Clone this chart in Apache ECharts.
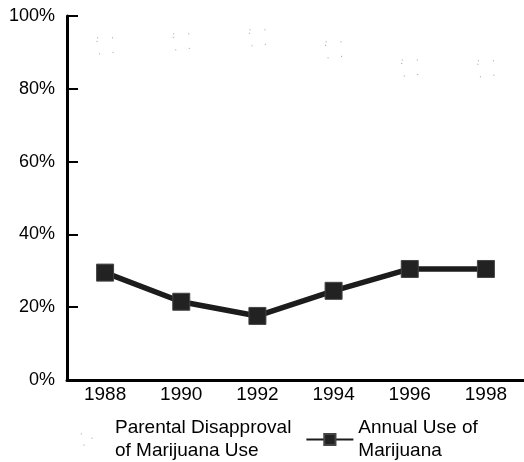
<!DOCTYPE html>
<html>
<head>
<meta charset="utf-8">
<script src="https://cdn.jsdelivr.net/npm/echarts@6/dist/echarts.min.js"></script>
<style>
  html, body { margin: 0; padding: 0; background: #fff; }
  #chart { width: 524px; height: 462px; }
</style>
</head>
<body>
<div id="chart"></div>
<script>
const years = ['1988', '1990', '1992', '1994', '1996', '1998']
const parentalDisapproval = [91.8, 92.9, 94.0, 90.7, 85.7, 85.5]
const annualUse = [29.5, 21.5, 17.6, 24.5, 30.5, 30.5]
const yTicks = { min: 0, max: 100, interval: 20 }

const font = '"Liberation Sans", Arial, Helvetica, sans-serif'
const chart = echarts.init(document.getElementById('chart'))

const faintBox = { color: '#fff', borderColor: '#9a9a9a', borderWidth: 1, borderType: [1, 14] }

chart.setOption({
  animation: false,
  backgroundColor: '#fff',
  textStyle: { fontFamily: font, color: '#000' },
  grid: { left: 67, right: 0, top: 16, bottom: 82 },
  legend: {
    left: 57,
    top: 400,
    itemWidth: 47,
    itemHeight: 14,
    itemGap: 14,
    textStyle: { fontSize: 19, lineHeight: 23, color: '#000', padding: [23, 0, 0, 0] },
    data: [
      { name: 'Parental Disapproval\nof Marijuana Use', itemStyle: faintBox },
      { name: 'Annual Use of\nMarijuana' },
    ],
  },
  xAxis: {
    type: 'category',
    data: years,
    boundaryGap: true,
    axisLine: { lineStyle: { color: '#000', width: 3 } },
    axisTick: { inside: true, length: 9, interval: 0, lineStyle: { color: '#000', width: 2 } },
    axisLabel: { fontSize: 19, color: '#000', margin: 5, interval: 0 },
  },
  yAxis: {
    type: 'value',
    min: yTicks.min,
    max: yTicks.max,
    interval: yTicks.interval,
    splitLine: { show: false },
    axisLine: { show: true, lineStyle: { color: '#000', width: 3 } },
    axisTick: { show: true, inside: true, length: 11, lineStyle: { color: '#000', width: 2 } },
    axisLabel: { fontSize: 18, color: '#000', margin: 12, formatter: '{value}%' },
  },
  series: [
    {
      name: 'Parental Disapproval\nof Marijuana Use',
      type: 'line',
      data: parentalDisapproval,
      symbol: 'rect',
      symbolSize: 16,
      lineStyle: { opacity: 0 },
      itemStyle: faintBox,
    },
    {
      name: 'Annual Use of\nMarijuana',
      type: 'line',
      data: annualUse,
      symbol: 'rect',
      symbolSize: 17,
      lineStyle: { color: '#1c1c1c', width: 5.5 },
      itemStyle: { color: '#222', borderColor: '#444', borderWidth: 1 },
    },
  ],
})
</script>
</body>
</html>
